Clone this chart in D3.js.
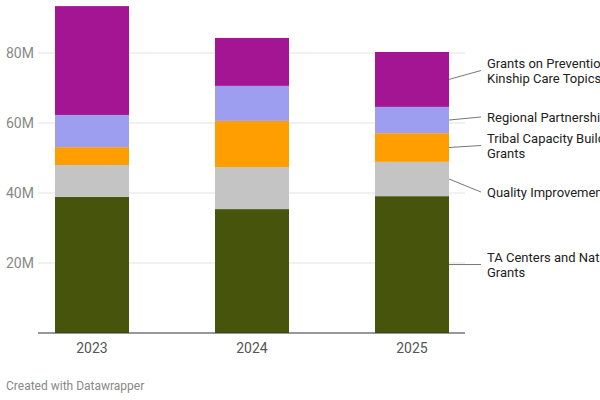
<!DOCTYPE html>
<html><head><meta charset="utf-8">
<script src="https://cdn.jsdelivr.net/npm/d3@7"></script>
<style>body{margin:0;background:#fff;overflow:hidden}svg{font-family:Roboto,sans-serif}</style>
</head><body><svg id="c" width="600" height="400"></svg>
<script>
var years = ["2023", "2024", "2025"];
var seriesNames = ["TA Centers and National Grants", "Quality Improvement Centers", "Tribal Capacity Building Grants", "Regional Partnership Grants", "Grants on Prevention and Kinship Care Topics"];
var labelLines = [["TA Centers and National", "Grants"], ["Quality Improvement Centers"], ["Tribal Capacity Building", "Grants"], ["Regional Partnership Grants"], ["Grants on Prevention and", "Kinship Care Topics"]];
var labelY = [257, 192, 138, 117, 63];
var colors = ["#47550c", "#c4c4c4", "#ff9e00", "#9e9ef0", "#a41594"];
var ta = [38.9, 35.4, 39.1];
var qic = [9.1, 12.0, 9.8];
var tribal = [5.1, 13.2, 8.2];
var regional = [9.2, 10.0, 7.5];
var prevention = [31.1, 13.7, 15.7];
var yTicks = [20, 40, 60, 80];

var values = [ta, qic, tribal, regional, prevention];
var data = years.map(function(y, i) {
	var d = {year: y};
	seriesNames.forEach(function(s, j) { d[s] = values[j][i]; });
	return d;
});
var stacked = d3.stack().keys(seriesNames)(data);

var svg = d3.select("#c");
var x = d3.scaleBand().domain(years).range([38, 465]).paddingInner(0.87).paddingOuter(0.4);
// band width ~74
x = d3.scalePoint().domain(years).range([92, 412]);
var bw = 74;
var y = d3.scaleLinear().domain([0, 80]).range([333, 53]);

svg.append("g").selectAll("line").data(yTicks).enter().append("line")
	.attr("x1", 38).attr("x2", 465).attr("y1", y).attr("y2", y)
	.attr("stroke", "#e3e3e3");
svg.append("g").selectAll("text").data(yTicks).enter().append("text")
	.attr("x", 6).attr("y", function(d) { return y(d) + 5; })
	.attr("fill", "#888").attr("font-size", 14)
	.text(function(d) { return d + "M"; });

svg.append("g").selectAll("g").data(stacked).enter().append("g")
	.attr("fill", function(d, i) { return colors[i]; })
	.selectAll("rect").data(function(d) { return d; }).enter().append("rect")
	.attr("x", function(d) { return x(d.data.year) - bw / 2; })
	.attr("width", bw)
	.attr("y", function(d) { return y(d[1]); })
	.attr("height", function(d) { return y(d[0]) - y(d[1]); });

svg.append("line").attr("x1", 38).attr("x2", 465).attr("y1", 333).attr("y2", 333).attr("stroke", "#333");

svg.append("g").selectAll("text").data(years).enter().append("text")
	.attr("x", function(d) { return x(d); }).attr("y", 353)
	.attr("text-anchor", "middle").attr("fill", "#555").attr("font-size", 14)
	.text(function(d) { return d; });

var last = stacked.map(function(s) { return s[2]; });
var lab = svg.append("g");
labelLines.forEach(function(lines, i) {
	var mid = y((last[i][0] + last[i][1]) / 2);
	var ty = labelY[i] + (lines.length - 1) * 7.5;
	lab.append("line").attr("x1", x("2025") + bw / 2).attr("y1", mid)
		.attr("x2", 481).attr("y2", ty).attr("stroke", "#777");
	lines.forEach(function(t, k) {
		lab.append("text").attr("x", 487).attr("y", labelY[i] + k * 15 + 4.5)
			.attr("font-size", 13).attr("fill", "#222").text(t);
	});
});

svg.append("text").attr("x", 6).attr("y", 390).attr("font-size", 12).attr("fill", "#888").text("Created with Datawrapper");
</script></body></html>
